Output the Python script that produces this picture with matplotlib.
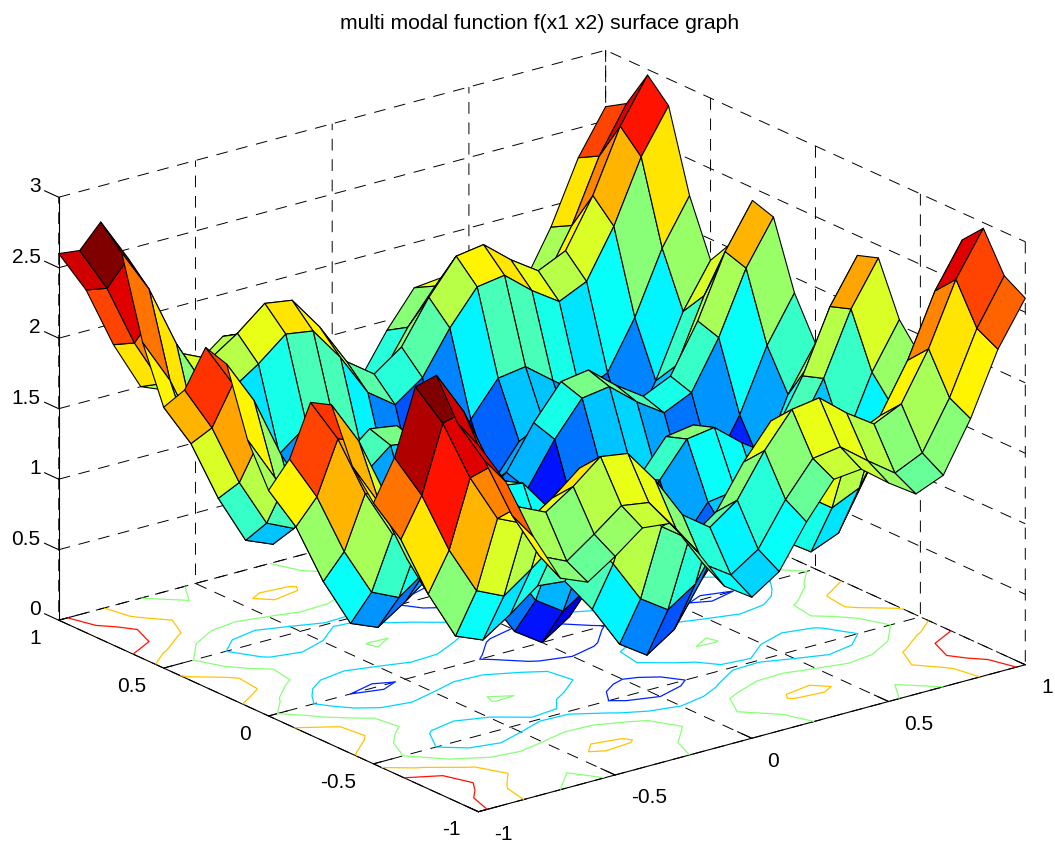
import matplotlib
matplotlib.use("Agg")
import matplotlib.pyplot as plt
from matplotlib.colors import LinearSegmentedColormap
import numpy as np

title_text = "multi modal function f(x1 x2) surface graph"

x_vals = [-1.0, -0.9, -0.8, -0.7, -0.6, -0.5, -0.4, -0.3, -0.2, -0.1, 0.0,
          0.1, 0.2, 0.3, 0.4, 0.5, 0.6, 0.7, 0.8, 0.9, 1.0]
y_vals = list(x_vals)

# surface heights, one row per y, from y=-1 to y=1
z_vals = [
    [2.60, 2.29, 1.85, 1.50, 1.42, 1.55, 1.70, 1.68, 1.43, 1.13, 1.00, 1.13, 1.43, 1.68, 1.70, 1.55, 1.42, 1.50, 1.85, 2.29, 2.60],
    [2.69, 2.37, 1.93, 1.59, 1.50, 1.64, 1.79, 1.76, 1.52, 1.22, 1.09, 1.22, 1.52, 1.76, 1.79, 1.64, 1.50, 1.59, 1.93, 2.37, 2.69],
    [2.96, 2.65, 2.21, 1.87, 1.78, 1.91, 2.07, 2.04, 1.80, 1.50, 1.36, 1.50, 1.80, 2.04, 2.07, 1.91, 1.78, 1.87, 2.21, 2.65, 2.96],
    [2.81, 2.50, 2.06, 1.72, 1.63, 1.76, 1.92, 1.89, 1.65, 1.35, 1.21, 1.35, 1.65, 1.89, 1.92, 1.76, 1.63, 1.72, 2.06, 2.50, 2.81],
    [2.24, 1.92, 1.48, 1.14, 1.05, 1.19, 1.34, 1.31, 1.07, 0.77, 0.64, 0.77, 1.07, 1.31, 1.34, 1.19, 1.05, 1.14, 1.48, 1.92, 2.24],
    [1.85, 1.54, 1.10, 0.75, 0.67, 0.80, 0.95, 0.93, 0.68, 0.38, 0.25, 0.38, 0.68, 0.93, 0.95, 0.80, 0.67, 0.75, 1.10, 1.54, 1.85],
    [2.04, 1.72, 1.28, 0.94, 0.85, 0.99, 1.14, 1.11, 0.87, 0.57, 0.44, 0.57, 0.87, 1.11, 1.14, 0.99, 0.85, 0.94, 1.28, 1.72, 2.04],
    [2.41, 2.10, 1.66, 1.32, 1.23, 1.36, 1.52, 1.49, 1.25, 0.95, 0.81, 0.95, 1.25, 1.49, 1.52, 1.36, 1.23, 1.32, 1.66, 2.10, 2.41],
    [2.36, 2.05, 1.61, 1.27, 1.18, 1.31, 1.47, 1.44, 1.20, 0.90, 0.76, 0.90, 1.20, 1.44, 1.47, 1.31, 1.18, 1.27, 1.61, 2.05, 2.36],
    [1.89, 1.57, 1.13, 0.79, 0.70, 0.84, 0.99, 0.96, 0.72, 0.42, 0.29, 0.42, 0.72, 0.96, 0.99, 0.84, 0.70, 0.79, 1.13, 1.57, 1.89],
    [1.60, 1.29, 0.85, 0.50, 0.42, 0.55, 0.70, 0.68, 0.43, 0.13, 0.00, 0.13, 0.43, 0.68, 0.70, 0.55, 0.42, 0.50, 0.85, 1.29, 1.60],
    [1.89, 1.57, 1.13, 0.79, 0.70, 0.84, 0.99, 0.96, 0.72, 0.42, 0.29, 0.42, 0.72, 0.96, 0.99, 0.84, 0.70, 0.79, 1.13, 1.57, 1.89],
    [2.36, 2.05, 1.61, 1.27, 1.18, 1.31, 1.47, 1.44, 1.20, 0.90, 0.76, 0.90, 1.20, 1.44, 1.47, 1.31, 1.18, 1.27, 1.61, 2.05, 2.36],
    [2.41, 2.10, 1.66, 1.32, 1.23, 1.36, 1.52, 1.49, 1.25, 0.95, 0.81, 0.95, 1.25, 1.49, 1.52, 1.36, 1.23, 1.32, 1.66, 2.10, 2.41],
    [2.04, 1.72, 1.28, 0.94, 0.85, 0.99, 1.14, 1.11, 0.87, 0.57, 0.44, 0.57, 0.87, 1.11, 1.14, 0.99, 0.85, 0.94, 1.28, 1.72, 2.04],
    [1.85, 1.54, 1.10, 0.75, 0.67, 0.80, 0.95, 0.93, 0.68, 0.38, 0.25, 0.38, 0.68, 0.93, 0.95, 0.80, 0.67, 0.75, 1.10, 1.54, 1.85],
    [2.24, 1.92, 1.48, 1.14, 1.05, 1.19, 1.34, 1.31, 1.07, 0.77, 0.64, 0.77, 1.07, 1.31, 1.34, 1.19, 1.05, 1.14, 1.48, 1.92, 2.24],
    [2.81, 2.50, 2.06, 1.72, 1.63, 1.76, 1.92, 1.89, 1.65, 1.35, 1.21, 1.35, 1.65, 1.89, 1.92, 1.76, 1.63, 1.72, 2.06, 2.50, 2.81],
    [2.96, 2.65, 2.21, 1.87, 1.78, 1.91, 2.07, 2.04, 1.80, 1.50, 1.36, 1.50, 1.80, 2.04, 2.07, 1.91, 1.78, 1.87, 2.21, 2.65, 2.96],
    [2.69, 2.37, 1.93, 1.59, 1.50, 1.64, 1.79, 1.76, 1.52, 1.22, 1.09, 1.22, 1.52, 1.76, 1.79, 1.64, 1.50, 1.59, 1.93, 2.37, 2.69],
    [2.60, 2.29, 1.85, 1.50, 1.42, 1.55, 1.70, 1.68, 1.43, 1.13, 1.00, 1.13, 1.43, 1.68, 1.70, 1.55, 1.42, 1.50, 1.85, 2.29, 2.60],
]

contour_levels = [0.5, 1.0, 1.5, 2.0, 2.5]
xy_ticks = [-1, -0.5, 0, 0.5, 1]
xy_labels = ["-1", "-0.5", "0", "0.5", "1"]
z_ticks = [0, 0.5, 1, 1.5, 2, 2.5, 3]
z_labels = ["0", "0.5", "1", "1.5", "2", "2.5", "3"]

# the old matlab jet, its breakpoints sit a bit off matplotlib's own
jet_anchors = [(0.0, (0, 0, 0.5625)), (0.125, (0, 0, 1)), (0.375, (0, 1, 1)),
               (0.625, (1, 1, 0)), (0.875, (1, 0, 0)), (1.0, (0.5, 0, 0))]

plt.rcParams["font.family"] = ["Liberation Sans", "DejaVu Sans"]

X, Y = np.meshgrid(x_vals, y_vals)
Z = np.array(z_vals)

fig = plt.figure(figsize=(10.55, 8.41), dpi=100)
ax = fig.add_axes([28.5 / 1055, -103.5 / 841, 1000 / 1055, 1000 / 841],
                  projection="3d", computed_zorder=False)
ax.set_proj_type("ortho")
ax.view_init(elev=20.5, azim=-127.5)
ax.set_box_aspect((690, 690, 452), zoom=1.043)
ax.patch.set_alpha(0)

cmap = LinearSegmentedColormap.from_list("matlab_jet", jet_anchors, N=64)
norm = plt.Normalize(Z.min(), Z.max())

ax.contour(X, Y, Z, levels=contour_levels, zdir="z", offset=0, cmap=cmap, norm=norm,
           linewidths=0.9, zorder=1)
ax.plot_surface(X, Y, Z, rstride=1, cstride=1, facecolors=cmap(norm(Z)), shade=False,
                edgecolor="black", linewidth=0.8, antialiased=True, zorder=2)

ax.set_xlim(-1, 1, view_margin=0)
ax.set_ylim(-1, 1, view_margin=0)
ax.set_zlim(0, 3, view_margin=0)
ax.set_xticks(xy_ticks, labels=xy_labels)
ax.set_yticks(xy_ticks, labels=xy_labels)
ax.set_zticks(z_ticks, labels=z_labels)

for axis in (ax.xaxis, ax.yaxis, ax.zaxis):
    axis.pane.set_visible(False)
    axis._axinfo["grid"].update(color="black", linewidth=0.7, linestyle=(0, (12, 9)))
    axis._axinfo["axisline"]["color"] = "black"
    axis._axinfo["axisline"]["linewidth"] = 0.9
    axis._axinfo["tick"].update(inward_factor=0, outward_factor=0.42)
    axis.set_tick_params(labelsize=15, pad=4, colors="black", width=0.8)

ax.xaxis.set_tick_params(pad=6)
ax.zaxis.set_tick_params(pad=-1)
ax.zaxis._get_tickdir = lambda position: 1

for label in ax.get_xticklabels():
    label.set_ha("left")
    label.set_va("center")
for label in ax.get_yticklabels():
    label.set_ha("right")
    label.set_va("center")
for label in ax.get_zticklabels():
    label.set_ha("right")
    label.set_va("bottom")

ax.set_title(title_text, x=0.5115, y=0.995, pad=0, fontsize=15.2)

fig.savefig("out.png", dpi=100)
